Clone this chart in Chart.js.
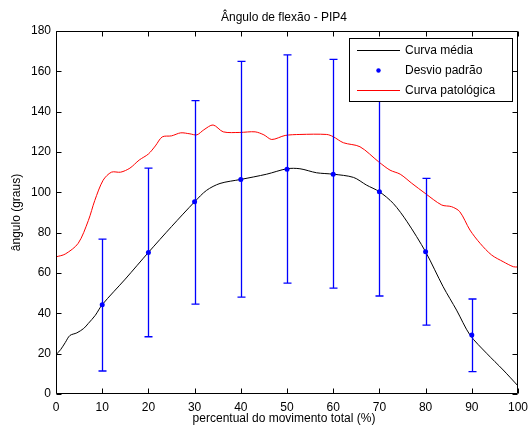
<!DOCTYPE html>
<html>
<head>
<meta charset="utf-8">
<script src="https://cdn.jsdelivr.net/npm/chart.js@4.4.1/dist/chart.umd.min.js"></script>
<style>
html,body{margin:0;padding:0;background:#fff;}
#wrap{width:528px;height:436px;position:relative;}
</style>
</head>
<body>
<div id="wrap"><canvas id="c" width="528" height="436"></canvas></div>
<script>
// ---- data ----
const titleText = "Ângulo de flexão - PIP4";
const xTitle = "percentual do movimento total (%)";
const yTitle = "ângulo (graus)";
const legendLabels = ["Curva média", "Desvio padrão", "Curva patológica"];

const meanX = [0, 1, 2, 3, 4.5, 6, 7, 8.5, 10, 15, 20, 25, 30, 32.6, 35.5, 40, 45.6, 50, 52.8, 56.4, 60, 64.4, 67.2, 70, 73, 76, 80, 83.8, 86.7, 89.6, 93.2, 96.8, 100];
const meanY = [19.5, 22, 25.5, 29, 30.3, 32.5, 35, 39, 44.3, 57, 70.2, 83, 95.3, 101, 104.4, 106.4, 109, 111.7, 111.7, 109.7, 109, 107.4, 103.6, 100.3, 94.5, 85.4, 70.5, 53.2, 41.6, 29.3, 20.2, 11.9, 4];

const patX = [0, 2, 4.8, 7, 8.4, 10.2, 12, 14, 16, 18, 20, 21.5, 23, 25, 27, 29, 30.5, 32, 34, 36.2, 39.8, 43.1, 45, 46.7, 49.6, 52.8, 58.6, 60, 62.2, 65.8, 69.8, 72.3, 74.5, 77, 79.9, 83.5, 85.6, 87.4, 89.6, 91.8, 94.3, 96.8, 99, 100];
const patY = [68, 69.4, 74.7, 86, 96, 106, 110, 110, 112, 116, 119, 123, 127.5, 128, 129.5, 129, 128.5, 131, 133.4, 130, 129.7, 130, 128.5, 126.2, 128.2, 128.7, 128.7, 127.6, 124.6, 122.6, 115.2, 111, 109, 104.5, 99.5, 93.7, 92.9, 90.4, 81.3, 74.7, 68.9, 65.6, 63.1, 63];

const errX = [10, 20, 30, 40, 50, 60, 70, 80, 90];
const errMean = [44.3, 70.2, 95.3, 106.4, 111.5, 109, 100.3, 70.5, 29.3];
const errLow = [11.4, 28.4, 44.6, 48, 55, 52.5, 48.6, 34.2, 11.1];
const errHigh = [76.8, 112, 145.5, 164.9, 168.2, 165.9, 152, 106.9, 47.1];

const xTicks = [0,10,20,30,40,50,60,70,80,90,100];
const yTicks = [0,20,40,60,80,100,120,140,160,180];

const FAMILY = "'Liberation Sans', Arial, sans-serif";
const FONT = "12px " + FAMILY;

const pts = (xs, ys) => xs.map((x, i) => ({x: x, y: ys[i]}));

const framePlugin = {
  id: 'frame',
  afterDatasetsDraw(chart) {
    const ctx = chart.ctx, xs = chart.scales.x, ys = chart.scales.y;
    ctx.save();
    ctx.strokeStyle = '#0000ff';
    ctx.lineWidth = 1.3;
    errX.forEach((x, i) => {
      const px = Math.round(xs.getPixelForValue(x)) + 0.5;
      const yl = ys.getPixelForValue(errLow[i]);
      const yh = ys.getPixelForValue(errHigh[i]);
      ctx.beginPath();
      ctx.moveTo(px, yl); ctx.lineTo(px, yh);
      ctx.moveTo(px - 4, yl); ctx.lineTo(px + 4, yl);
      ctx.moveTo(px - 4, yh); ctx.lineTo(px + 4, yh);
      ctx.stroke();
    });
    ctx.restore();
  },
  afterDraw(chart) {
    const ctx = chart.ctx, xs = chart.scales.x, ys = chart.scales.y;
    const a = chart.chartArea;
    const L = Math.round(a.left) + 0.5, R = Math.round(a.right) - 0.5;
    const T = Math.round(a.top) + 0.5, B = Math.round(a.bottom) - 0.5;
    ctx.save();
    ctx.strokeStyle = '#000';
    ctx.lineWidth = 1;
    ctx.beginPath();
    ctx.rect(L, T, R - L, B - T);
    xTicks.forEach(v => {
      const px = Math.round(xs.getPixelForValue(v)) + 0.5;
      ctx.moveTo(px, B); ctx.lineTo(px, B - 5);
      ctx.moveTo(px, T); ctx.lineTo(px, T + 5);
    });
    yTicks.forEach(v => {
      const py = Math.round(ys.getPixelForValue(v)) + 0.5;
      ctx.moveTo(L, py); ctx.lineTo(L + 5, py);
      ctx.moveTo(R, py); ctx.lineTo(R - 5, py);
    });
    ctx.stroke();

    ctx.fillStyle = '#000';
    ctx.font = FONT;
    ctx.textAlign = 'center';
    ctx.textBaseline = 'alphabetic';
    ctx.fillText(titleText, 284, 21);
    ctx.fillText(xTitle, 284, 422);
    ctx.save();
    ctx.translate(20, (a.top + a.bottom) / 2);
    ctx.rotate(-Math.PI / 2);
    ctx.fillText(yTitle, 0, 0);
    ctx.restore();

    // legend
    const bx = 349.5, by = 38.5, bw = 163, bh = 63;
    ctx.fillStyle = '#fff';
    ctx.fillRect(bx, by, bw, bh);
    ctx.strokeStyle = '#000';
    ctx.strokeRect(bx, by, bw, bh);
    const rows = [50, 70, 90];
    ctx.lineWidth = 1;
    ctx.strokeStyle = '#000';
    ctx.beginPath(); ctx.moveTo(357, rows[0] + 0.5); ctx.lineTo(400, rows[0] + 0.5); ctx.stroke();
    ctx.fillStyle = '#0000ff';
    ctx.beginPath(); ctx.arc(378.5, rows[1] + 0.5, 2.2, 0, Math.PI * 2); ctx.fill();
    ctx.strokeStyle = '#ff0000';
    ctx.beginPath(); ctx.moveTo(357, rows[2] + 0.5); ctx.lineTo(400, rows[2] + 0.5); ctx.stroke();
    ctx.fillStyle = '#000';
    ctx.textAlign = 'left';
    ctx.textBaseline = 'middle';
    legendLabels.forEach((t, i) => ctx.fillText(t, 405, rows[i] + 1));
    ctx.restore();
  }
};

new Chart(document.getElementById('c'), {
  type: 'scatter',
  data: {
    datasets: [
      { label: legendLabels[0], data: pts(meanX, meanY), showLine: true, borderColor: '#000', borderWidth: 1, pointRadius: 0, tension: 0.3, order: 3 },
      { label: legendLabels[1], data: pts(errX, errMean), showLine: false, backgroundColor: '#0000ff', borderColor: '#0000ff', pointRadius: 2.5, pointBorderWidth: 0, order: 2 },
      { label: legendLabels[2], data: pts(patX, patY), showLine: true, borderColor: '#ff0000', borderWidth: 1, pointRadius: 0, tension: 0.3, order: 1 }
    ]
  },
  options: {
    responsive: false,
    animation: false,
    events: [],
    layout: { padding: { top: 31, right: 10, left: 0, bottom: 0 } },
    plugins: { legend: { display: false }, title: { display: false }, tooltip: { enabled: false } },
    scales: {
      x: {
        type: 'linear', min: 0, max: 100,
        afterFit(s) { s.height = 42; s.paddingLeft = 0; s.paddingRight = 0; },
        afterBuildTicks(s) { s.ticks = xTicks.map(v => ({value: v})); },
        grid: { display: false, drawTicks: false, tickLength: 0 },
        border: { display: false },
        ticks: { color: '#000', font: { family: FAMILY, size: 12 }, padding: 6, maxRotation: 0, autoSkip: false }
      },
      y: {
        type: 'linear', min: 0, max: 180,
        afterFit(s) { s.width = 56; s.paddingTop = 0; s.paddingBottom = 0; },
        afterBuildTicks(s) { s.ticks = yTicks.map(v => ({value: v})); },
        grid: { display: false, drawTicks: false, tickLength: 0 },
        border: { display: false },
        ticks: { color: '#000', font: { family: FAMILY, size: 12 }, padding: 5, autoSkip: false }
      }
    }
  },
  plugins: [framePlugin]
});
</script>
</body>
</html>
